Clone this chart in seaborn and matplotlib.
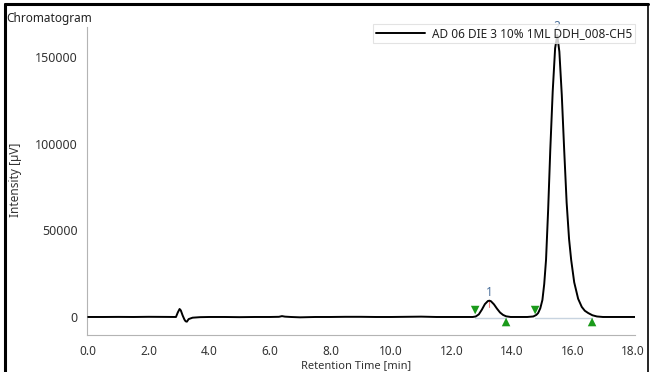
import matplotlib
matplotlib.use("Agg")
import matplotlib.pyplot as plt
import seaborn as sns
import pandas as pd
from matplotlib.lines import Line2D

# Chromatogram trace (time in min, intensity in uV)
time = [0.0, 0.5, 1.0, 1.5, 2.0, 2.5, 2.9, 2.96, 3.02, 3.06, 3.12, 3.18, 3.22, 3.26,
        3.32, 3.45, 3.7, 4.0, 4.5, 5.0, 5.5, 6.0, 6.3, 6.4, 6.5, 6.7, 7.0, 7.5,
        8.0, 8.5, 9.0, 9.5, 10.0, 10.5, 11.0, 11.5, 12.0, 12.4, 12.7,
        12.8, 12.9, 13.0, 13.1, 13.2, 13.25, 13.3, 13.4, 13.5, 13.6, 13.7, 13.8,
        13.95, 14.2, 14.5, 14.7, 14.8, 14.86, 14.93, 15.0, 15.06, 15.12, 15.19,
        15.26, 15.34, 15.42, 15.49, 15.56, 15.64, 15.72, 15.80, 15.88, 15.95,
        16.05, 16.18, 16.3, 16.4, 16.51, 16.65, 16.8, 17.0, 17.3, 17.6, 18.07]
intensity = [0, 0, 50, 0, 100, 50, 0, 2600, 4600, 3800, 900, -1500, -2500, -2700,
             -1200, -400, -100, 0, 0, -100, 0, 0, 100, 500, 200, 0, -200, 0,
             0, 100, 100, 0, 0, 100, 200, 0, 0, 0, 0,
             300, 1500, 4200, 7400, 9200, 9400, 9100, 7300, 4800, 2600, 1200, 400,
             0, 0, 0, 300, 1200, 2300, 5000, 9800, 19000, 33000, 62000,
             96300, 130000, 155000, 162600, 153000, 128000, 96000, 66000, 45000, 32900,
             20000, 10500, 5800, 3600, 2300, 1000, 300, 0, 0, 0, 0]

peak_names = ["1", "2"]
peak_times = [13.25, 15.49]
peak_heights = [9400, 162600]

# integration marks: peak starts (down) and ends (up)
start_times = [12.78, 14.76]
end_times = [13.80, 16.64]
start_levels = [4000, 4000]
end_levels = [-2900, -2900]

trace_name = "AD 06 DIE 3 10% 1ML DDH_008-CH5"

sns.set_style("white")
plt.rcParams['font.family'] = ['Noto Sans', 'DejaVu Sans']

fig = plt.figure(figsize=(6.51, 3.72), dpi=100)
ax = fig.add_axes([0.134, 0.0995, 0.842, 0.828])

df = pd.DataFrame({"time": time, "intensity": intensity})

# integration baselines
for s, e in zip(start_times, end_times):
    ax.plot([s, e], [-300, -300], color="#c8d4e0", lw=1.0, zorder=1)

sns.lineplot(data=df, x="time", y="intensity", ax=ax, color="black", lw=1.4,
             estimator=None, legend=False, zorder=3)

sns.scatterplot(x=start_times, y=start_levels, ax=ax, marker="v", color="#1a9a1a",
                s=38, edgecolor="none", zorder=4)
sns.scatterplot(x=end_times, y=end_levels, ax=ax, marker="^", color="#1a9a1a",
                s=38, edgecolor="none", zorder=4)

# apex marker for peak 1 and peak labels
ax.plot([peak_times[0], peak_times[0]], [peak_heights[0], peak_heights[0] - 3500],
        color="#f08080", lw=0.8, zorder=2)
for name, t, h in zip(peak_names, peak_times, peak_heights):
    ax.text(t - 0.02, h + 1200, name, color="#4a6f9a", fontsize=8.5,
            ha="center", va="bottom", zorder=5)

ax.set_xlim(-0.03, 18.07)
ax.set_ylim(-10380, 167240)
ax.set_xticks([0, 2, 4, 6, 8, 10, 12, 14, 16, 18])
ax.set_xticklabels(["0.0", "2.0", "4.0", "6.0", "8.0", "10.0", "12.0", "14.0", "16.0", "18.0"])
ax.set_yticks([0, 50000, 100000, 150000])
ax.set_yticklabels(["0", "50000", "100000", "150000"])

for side in ["top", "right"]:
    ax.spines[side].set_visible(False)
for side in ["left", "bottom"]:
    ax.spines[side].set_color("#b4b4b4")
    ax.spines[side].set_linewidth(0.8)
ax.tick_params(axis="both", colors="#b4b4b4", labelcolor="#333333", labelsize=9,
               width=0.8, direction="out")
ax.tick_params(axis="y", length=4, pad=3)
ax.tick_params(axis="x", length=6, pad=1.5, labelsize=8.5)

ax.set_xlabel("Retention Time [min]", fontsize=8, color="#333333", va="center")
ax.xaxis.set_label_coords(0.49, -0.1)
ax.set_ylabel("Intensity [\u00b5V]", fontsize=8.5, color="#333333", va="center")
ax.yaxis.set_label_coords(-0.131, 0.503)

handle = Line2D([], [], color="black", lw=1.4)
leg = ax.legend([handle], [trace_name], loc="upper right", bbox_to_anchor=(0.976, 0.935),
                bbox_transform=fig.transFigure, frameon=True, fancybox=False,
                fontsize=8.5, handlelength=4.2, handletextpad=0.6, borderpad=0.25,
                borderaxespad=0)
leg.get_frame().set_edgecolor("#dcdcdc")
leg.get_frame().set_linewidth(0.8)
for t in leg.get_texts():
    t.set_color("#222222")

fig.text(0.009, 0.95, "Chromatogram", fontsize=8.5, color="#222222", ha="left", va="center")

# outer frame of the report panel
fig.add_artist(Line2D([0.007, 0.007], [0.0, 0.99], color="black", lw=2.2,
                      transform=fig.transFigure))
fig.add_artist(Line2D([0.007, 0.995], [0.99, 0.99], color="black", lw=2.2,
                      transform=fig.transFigure))
fig.add_artist(Line2D([0.995, 0.995], [0.0, 0.99], color="black", lw=1.2,
                      transform=fig.transFigure))

fig.savefig("out.png", dpi=100)
